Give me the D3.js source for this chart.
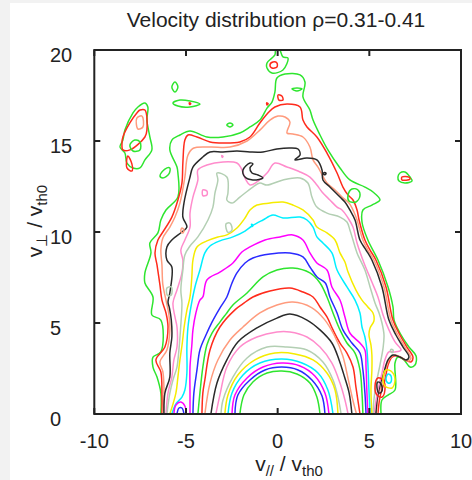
<!DOCTYPE html>
<html><head><meta charset="utf-8">
<script src="https://cdn.jsdelivr.net/npm/d3@7"></script>
<style>
html,body{margin:0;padding:0;background:#f2f2f2;overflow:hidden;}
svg{display:block;}
text{font-family:"Liberation Sans",Arial,Helvetica,sans-serif;fill:#222;}
</style></head><body>
<svg id="chart" width="472" height="480"></svg>
<script>
// ---- data (v_par, v_perp) ----
const xTicks = [-10,-5,0,5,10];
const yTicks = [0,5,10,15,20];
const levelColors = ["#2ee52e","#ff2b1c","#ff9b7d","#2a2a2a","#ff8ccc","#b3cfb3","#f5ec00","#00efff","#ff00ff","#2a2aff"];

const contour01 = [[-6.37,0],[-6.37,1.15],[-6.58,2.03],[-6.8,2.58],[-6.8,3.13],[-6.37,3.41],[-6.37,5.16],[-6.86,5.44],[-6.8,6.43],[-7.24,7.2],[-7.24,7.75],[-6.91,8.85],[-6.97,9.4],[-6.53,9.95],[-6.37,10.66],[-6.09,11.21],[-5.44,11.92],[-5.44,13.24],[-5.49,13.57],[-5.88,14.51],[-5.77,15.05],[-5.33,15.33],[-4.78,15.55],[-3.86,15.22],[-2.98,15.22],[-2.06,15.44],[-1.51,15.77],[-0.97,16.15],[-0.58,16.81],[-0.31,17.14],[-0.15,17.69],[-0.04,18.46],[0.4,18.68],[1.22,18.63],[1.49,18.24],[1.38,17.42],[1.76,16.7],[1.93,16.15],[2.31,15.33],[2.74,14.51],[3.4,13.52],[3.94,12.86],[4.76,12.47],[5.2,12.2],[5.58,11.76],[5.14,11.48],[4.65,11.21],[4.6,10.55],[4.92,9.56],[5.47,8.46],[6.02,6.98],[6.29,5.88],[6.35,5.16],[6.67,4.45],[7.16,3.68],[7.55,3.19],[7.49,2.69],[7.22,2.58],[6.89,2.97],[6.56,3.13],[6.4,2.8],[6.4,1.32],[6.02,1.04],[5.69,0.77],[5.64,0]];
const contour02 = [[-6.31,0],[-6.31,1.04],[-6.37,2.31],[-6.64,2.97],[-6.15,3.68],[-5.98,4.78],[-6.09,5.55],[-6.31,6.26],[-6.42,7.09],[-6.58,8.19],[-6.69,8.85],[-6.53,9.56],[-6.26,10.0],[-5.77,10.82],[-5.44,11.76],[-5.22,12.69],[-5.17,13.79],[-5.06,15.05],[-4.89,15.33],[-4.4,15.22],[-3.69,14.95],[-2.98,14.89],[-2.06,14.95],[-1.51,15.22],[-0.97,15.99],[-0.53,16.54],[-0.15,16.87],[0.51,17.03],[1.22,16.87],[1.38,16.15],[1.6,15.77],[2.14,15.22],[2.69,14.34],[3.24,13.24],[3.56,12.47],[3.84,12.03],[4.11,11.76],[4.33,11.21],[4.44,10.66],[4.76,9.56],[5.04,9.01],[5.36,8.46],[5.91,6.98],[6.29,5.16],[6.67,4.34],[7.05,3.68],[7.38,3.13],[7.27,2.86],[6.94,2.97],[6.56,3.19],[6.24,3.13],[6.02,2.69],[5.85,1.87],[5.58,0.93],[5.47,0]];
const contour03 = [[-6.26,0],[-6.2,1.04],[-6.26,2.31],[-6.42,2.86],[-6.04,3.52],[-5.88,4.62],[-5.93,5.44],[-6.09,6.26],[-6.26,7.09],[-6.31,8.19],[-6.37,9.01],[-6.26,9.67],[-5.88,10.27],[-5.6,10.82],[-5.33,11.59],[-5.06,13.02],[-4.9,14.2],[-4.6,14.6],[-3.69,14.67],[-2.6,14.67],[-1.67,15.0],[-0.97,15.6],[-0.42,16.15],[0.02,16.37],[0.4,16.32],[0.67,16.04],[0.51,15.44],[0.83,15.38],[1.38,15.22],[1.76,14.67],[1.93,13.96],[2.2,13.57],[2.69,12.69],[3.13,12.31],[3.51,11.92],[3.89,11.59],[4.16,11.1],[4.33,10.66],[4.65,9.56],[4.92,9.01],[5.25,8.46],[5.8,6.98],[6.18,5.16],[6.56,4.34],[6.94,3.68],[7.27,3.08],[7.11,2.91],[6.78,3.08],[6.4,3.24],[6.13,3.08],[5.91,2.53],[5.75,1.87],[5.47,0.93],[5.42,0]];
const contour04 = [[-6.2,0],[-6.15,1.15],[-5.88,2.03],[-5.88,3.35],[-5.77,4.23],[-5.8,5.16],[-5.9,5.82],[-5.98,6.15],[-5.88,6.65],[-5.77,8.08],[-6.04,8.46],[-6.04,9.18],[-5.77,9.56],[-5.22,10.0],[-4.95,10.27],[-5.17,10.82],[-5.11,11.59],[-4.78,13.02],[-4.62,13.57],[-4.08,14.12],[-3.69,14.4],[-2.98,14.4],[-2.22,14.45],[-1.51,14.4],[-0.8,14.4],[-0.04,14.56],[0.67,14.62],[1.11,14.56],[1.22,14.23],[0.94,13.96],[1.6,14.07],[2.14,13.96],[2.42,13.41],[2.47,12.86],[2.85,12.47],[3.4,11.92],[3.67,11.65],[3.94,11.21],[4.22,10.66],[4.49,9.56],[4.82,9.01],[5.14,8.46],[5.69,6.98],[6.07,5.16],[6.45,4.34],[6.84,3.68],[7.16,3.13],[7.0,2.97],[6.67,3.13],[6.29,3.24],[6.02,2.97],[5.8,2.31],[5.58,1.59],[5.42,0.77],[5.36,0]];
const contour05 = [[-6.09,0],[-5.98,1.15],[-5.77,2.03],[-5.66,2.97],[-5.49,3.68],[-5.49,4.78],[-5.6,5.33],[-5.71,6.1],[-5.49,6.81],[-5.22,7.75],[-5.17,8.46],[-5.28,9.01],[-5.06,9.56],[-4.78,10.27],[-4.78,11.04],[-4.62,11.92],[-4.35,12.86],[-4.35,13.41],[-3.86,13.68],[-2.98,13.85],[-2.22,13.79],[-2.0,13.52],[-1.73,12.86],[-1.51,12.58],[-1.13,12.75],[-0.58,13.24],[-0.15,13.79],[0.51,13.57],[1.22,13.3],[1.76,13.02],[2.14,12.58],[2.42,12.2],[2.85,11.76],[3.24,11.37],[3.51,11.21],[3.84,10.77],[4.11,10.27],[4.33,9.4],[4.71,8.3],[5.14,7.25],[5.47,6.43],[5.75,5.44],[6.07,4.62],[6.4,3.96],[6.73,3.52],[6.4,3.41],[6.07,3.41],[5.85,2.97],[5.69,2.25],[5.47,1.32],[5.25,0]];
const contour06 = [[-6.04,0],[-5.88,1.15],[-5.71,1.87],[-5.49,2.58],[-5.4,3.35],[-5.3,4.62],[-5.22,6.1],[-5.28,6.81],[-5.17,7.91],[-5.06,8.74],[-4.78,9.23],[-4.35,9.73],[-3.8,10.66],[-3.53,11.37],[-3.42,12.14],[-3.26,12.86],[-3.31,13.24],[-2.77,13.02],[-2.71,12.14],[-2.77,11.76],[-2.49,11.59],[-2.06,11.92],[-1.35,12.47],[-0.97,12.69],[-0.58,12.58],[0.29,12.86],[1.22,12.97],[1.65,12.69],[1.87,11.92],[2.14,11.37],[2.69,11.04],[3.4,10.82],[3.78,10.55],[3.94,10.11],[4.11,9.56],[4.33,8.85],[4.76,7.91],[5.04,6.98],[5.31,6.1],[5.53,5.55],[5.69,5.0],[5.8,4.34],[5.75,3.63],[5.58,2.69],[5.36,1.59],[5.25,0.77],[5.2,0]];
const contour07 = [[-5.88,0],[-5.55,1.15],[-5.44,2.03],[-5.33,2.97],[-5.2,3.9],[-5.1,4.78],[-4.95,5.71],[-4.78,6.43],[-4.68,7.53],[-4.62,8.46],[-4.4,9.18],[-3.86,9.51],[-3.26,9.73],[-2.77,9.84],[-2.22,10.22],[-1.78,10.77],[-1.51,11.21],[-1.13,11.48],[-0.42,11.59],[0.29,11.65],[0.83,11.48],[1.38,11.21],[1.93,10.66],[2.14,10.27],[2.69,9.95],[3.13,9.56],[3.4,8.85],[3.67,8.35],[3.84,7.8],[4.27,6.81],[4.6,6.26],[4.92,5.88],[5.2,5.55],[5.25,5.11],[5.04,4.73],[4.98,4.34],[5.09,3.79],[5.14,3.24],[5.14,2.42],[5.09,1.32],[5.14,0]];
const contour08 = [[-5.77,0],[-5.55,0.55],[-5.22,0.93],[-5.06,1.32],[-4.95,2.25],[-4.95,3.68],[-4.89,4.78],[-4.73,5.88],[-4.51,6.98],[-4.24,7.91],[-3.97,8.85],[-3.69,9.23],[-3.15,9.51],[-2.44,9.73],[-1.78,10.05],[-1.4,10.33],[-0.8,10.66],[-0.26,10.93],[0.29,10.77],[1.22,10.82],[1.6,10.66],[1.93,10.27],[2.14,9.73],[2.47,9.4],[2.96,8.85],[3.24,7.91],[3.78,6.98],[4.22,6.26],[4.49,5.55],[4.6,4.78],[4.76,4.23],[4.87,3.52],[4.92,2.8],[4.98,1.32],[5.04,0]];
const contour09 = [[-4.78,0],[-4.78,1.15],[-4.78,2.58],[-4.68,3.79],[-4.62,4.62],[-4.46,5.55],[-4.24,6.26],[-4.08,6.43],[-3.86,7.36],[-3.15,7.8],[-2.44,8.3],[-1.95,8.9],[-1.51,9.18],[-0.69,9.56],[0.13,9.73],[0.83,9.84],[1.38,9.56],[1.76,8.85],[2.14,8.3],[2.69,7.91],[2.96,6.98],[3.4,6.26],[3.67,5.33],[3.94,4.45],[4.49,3.9],[4.76,3.52],[4.82,2.58],[4.87,1.15],[4.92,0]];
const contour10 = [[-4.62,0],[-4.57,1.15],[-4.4,2.42],[-4.24,3.52],[-3.91,4.34],[-3.58,5.05],[-3.15,5.82],[-2.77,6.43],[-2.49,7.2],[-2.22,7.75],[-1.78,8.3],[-1.35,8.57],[-0.42,8.79],[0.67,8.85],[1.38,8.63],[1.76,8.08],[2.15,7.53],[2.6,7.2],[2.85,6.43],[3.24,5.55],[3.56,4.62],[4.05,3.9],[4.49,3.35],[4.65,2.42],[4.76,1.15],[4.82,0]];
const contour11 = [[-4.35,0],[-4.24,1.15],[-4.08,2.58],[-3.86,3.79],[-3.58,4.45],[-3.15,5.05],[-2.82,5.49],[-2.44,5.99],[-1.67,6.65],[-0.8,7.53],[-0.04,7.91],[0.83,8.02],[1.76,7.75],[2.31,7.2],[2.69,6.43],[3.02,5.55],[3.4,4.62],[3.78,3.9],[4.22,3.35],[4.49,2.42],[4.6,1.15],[4.65,0]];
const contour12 = [[-4.13,0],[-4.08,1.15],[-3.97,1.87],[-3.69,3.52],[-3.15,4.78],[-2.3,5.75],[-1.9,6.05],[-1.35,6.43],[-0.42,6.76],[0.67,6.92],[1.38,6.7],[1.93,6.43],[2.31,5.88],[2.69,5.33],[3.02,4.62],[3.4,3.9],[3.78,3.35],[4.11,2.58],[4.27,1.48],[4.49,0]];
const contour13 = [[-3.97,0],[-3.69,1.7],[-3.26,2.97],[-2.6,4.07],[-1.89,4.78],[-0.97,5.55],[-0.04,5.99],[0.83,6.15],[1.85,5.85],[2.55,5.2],[3.1,4.3],[3.55,3.2],[3.85,1.9],[4.1,0.77],[4.3,0]];
const contour14 = [[-3.64,0],[-3.31,1.7],[-2.77,2.97],[-2.17,3.96],[-1.13,4.73],[-0.04,5.27],[0.67,5.49],[1.6,5.16],[2.31,4.62],[2.96,3.9],[3.35,2.97],[3.65,2.03],[3.9,1.15],[4.05,0]];
const contour15 = [[-3.37,0],[-3.15,1.04],[-2.77,2.58],[-2.06,3.68],[-1.13,4.23],[-0.04,4.51],[0.67,4.51],[1.6,4.23],[2.31,3.68],[2.96,2.8],[3.4,1.7],[3.67,0.77],[3.84,0]];
const contour16 = [[-3.09,0],[-2.98,0.77],[-2.44,2.03],[-1.67,3.08],[-0.58,3.68],[0.51,3.68],[1.6,3.52],[2.47,2.86],[3.02,1.87],[3.29,0.93],[3.46,0]];
const contour17 = [[-2.88,0],[-2.71,1.04],[-2.17,2.14],[-1.24,2.97],[-0.15,3.35],[0.94,3.3],[1.93,2.97],[2.69,2.25],[3.13,1.32],[3.29,0]];
const contour18 = [[-2.71,0],[-2.49,1.15],[-1.89,2.14],[-0.97,2.8],[0.23,3.02],[1.33,2.8],[2.2,2.25],[2.74,1.32],[3.02,0]];
const contour19 = [[-2.49,0],[-2.33,1.04],[-1.67,1.98],[-0.8,2.58],[0.23,2.8],[1.22,2.64],[2.03,2.09],[2.58,1.15],[2.8,0]];
const contour20 = [[-2.33,0],[-2.17,1.04],[-1.51,1.87],[-0.69,2.42],[0.23,2.58],[1.11,2.42],[1.87,1.87],[2.42,0.99],[2.58,0]];
const contour21 = [[-2.06,0],[-1.84,1.04],[-1.35,1.76],[-0.58,2.25],[0.23,2.36],[1.05,2.2],[1.76,1.7],[2.14,0.93],[2.31,0]];

// open arcs touching the v_perp = 0 axis: [level, points]
const bottomArcs = [
  [9, [[-5.66,0],[-5.55,0.49],[-5.28,0.66],[-5.06,0.44],[-5.0,0]]],
  [10,[[-5.49,0],[-5.38,0.33],[-5.22,0.33],[-5.11,0]]]
];

// closed islands: [level, points]
const islands = [
  [1, [[-8.44,15.05],[-8.33,15.6],[-7.89,16.54],[-7.62,16.87],[-7.24,17.09],[-7.08,16.87],[-7.13,16.15],[-6.97,15.22],[-6.86,14.51],[-7.24,13.96],[-7.51,13.52],[-7.89,13.52],[-8.22,13.79],[-8.33,14.34],[-8.6,14.67]]],
  [2, [[-7.51,16.7],[-7.24,16.7],[-7.13,15.6],[-7.24,15.22],[-8.06,14.51],[-8.44,14.51],[-8.49,14.89],[-8.44,15.22],[-8.06,15.99],[-7.68,16.54]]],
  [1, [[-8.06,14.78],[-7.79,15.05],[-7.51,14.95],[-7.51,14.51],[-7.89,14.45]]],
  [2, [[-8.17,14.18],[-7.95,13.74],[-7.95,13.35],[-8.22,13.52]]],
  [3, [[-7.68,16.26],[-7.4,16.37],[-7.35,15.77],[-7.62,15.66]]],
  [1, [[-5.6,18.24],[-5.44,17.97],[-5.6,17.69],[-5.77,17.97]]],
  [1, [[-5.71,17.09],[-5.33,17.25],[-4.78,17.2],[-4.24,17.03],[-4.78,16.87],[-5.44,16.92]]],
  [2, [[-4.82,17.1],[-4.74,17.06],[-4.8,17.0]]],
  [1, [[-6.42,13.08],[-6.15,13.46],[-5.88,13.52],[-5.93,13.19],[-6.26,12.97]]],
  [1, [[-2.77,15.88],[-2.6,15.99],[-2.44,15.88],[-2.6,15.77]]],
  [1, [[-0.09,20.1],[0.07,20.1],[0.29,19.62],[0.56,19.56],[0.29,18.9],[-0.31,18.74],[-0.58,19.01],[-0.58,19.29],[-0.31,19.56],[-0.15,19.73]]],
  [2, [[-0.42,19.18],[-0.26,19.34],[-0.04,19.29],[-0.04,19.07],[-0.31,19.01]]],
  [1, [[0.78,17.86],[1.05,17.91],[1.33,17.86],[1.05,17.75]]],
  [1, [[6.67,13.24],[6.94,13.3],[7.22,13.02],[7.33,12.8],[6.94,12.69],[6.62,12.8],[6.56,13.02]]],
  [2, [[6.78,13.02],[7.16,13.02],[7.22,12.91],[6.78,12.86]]],
  [1, [[3.84,12.03],[4.05,12.36],[4.38,12.31],[4.49,11.98],[4.27,11.65],[3.89,11.7]]],
  [2, [[0.02,17.53],[0.23,17.47],[0.29,17.25],[0.07,17.25]]],
  [2, [[-0.6,17.1],[-0.52,17.05],[-0.58,16.98]]],
  [3, [[-5.22,10.22],[-5.11,10.11],[-5.17,9.95],[-5.28,10.05]]],
  [4, [[-1.51,13.79],[-1.89,13.41],[-1.78,13.02],[-1.35,12.86],[-0.8,12.97],[-1.07,13.13],[-1.4,13.24],[-1.51,13.52],[-1.35,13.74]]],
  [4, [[2.55,13.27],[2.64,13.22],[2.58,13.15],[2.5,13.2]]],
  [5, [[-4.08,12.31],[-3.86,12.25],[-3.86,12.03],[-4.08,12.0]]],
  [5, [[-3.05,14.2],[-2.98,14.15],[-3.02,14.1]]],
  [6, [[-2.82,10.44],[-2.6,10.49],[-2.49,10.11],[-2.71,9.98]]],
  [6, [[-6.04,6.92],[-5.8,6.98],[-5.8,6.54],[-6.0,6.5]]],
  [8, [[-1.43,10.42],[-1.35,10.38],[-1.38,10.3]]],
  [2, [[5.47,1.98],[5.75,1.87],[5.85,1.32],[5.69,0.93],[5.42,1.04],[5.31,1.54]]],
  [4, [[5.47,1.76],[5.64,1.65],[5.69,1.26],[5.53,1.15],[5.42,1.43]]],
  [7, [[5.91,2.42],[6.24,2.31],[6.4,1.87],[6.24,1.43],[5.85,1.54],[5.75,1.98]]],
  [8, [[6.02,2.2],[6.18,2.09],[6.18,1.76],[6.02,1.7],[5.91,1.92]]],
  [6, [[6.18,3.55],[6.3,3.5],[6.27,3.38],[6.15,3.42]]]
];

const contourLines = [contour01,contour02,contour03,contour04,contour05,contour06,contour07,
  contour08,contour09,contour10,contour11,contour12,contour13,contour14,contour15,contour16,
  contour17,contour18,contour19,contour20,contour21];

// ---- drawing ----
const svg = d3.select("#chart");
svg.append("rect").attr("x",10).attr("y",3).attr("width",462).attr("height",477).attr("fill","#fff");

const x = d3.scaleLinear().domain([-10,10]).range([94.3,461]);
const y = d3.scaleLinear().domain([0,20]).range([414,50]);
const colorOf = lvl => levelColors[(lvl-1) % levelColors.length];

svg.append("clipPath").attr("id","plotclip").append("rect")
  .attr("x",x(-10)).attr("y",y(20)).attr("width",x(10)-x(-10)).attr("height",y(0)-y(20));

const gC = svg.append("g").attr("clip-path","url(#plotclip)")
  .attr("fill","none").attr("stroke-width",1.5).attr("stroke-linejoin","round");

const lineOpen = d3.line().x(d=>x(d[0])).y(d=>y(d[1])).curve(d3.curveCatmullRom.alpha(0.5));
const lineClosed = d3.line().x(d=>x(d[0])).y(d=>y(d[1])).curve(d3.curveCatmullRomClosed.alpha(0.5));

contourLines.forEach((pts,i)=>{
  gC.append("path").attr("d",lineOpen(pts)).attr("stroke",colorOf(i+1));
});
bottomArcs.forEach(([lvl,pts])=>{
  gC.append("path").attr("d",lineOpen(pts)).attr("stroke",colorOf(lvl));
});
islands.forEach(([lvl,pts])=>{
  gC.append("path").attr("d",lineClosed(pts)).attr("stroke",colorOf(lvl));
});

// frame
svg.append("rect").attr("x",x(-10)).attr("y",y(20)).attr("width",x(10)-x(-10)).attr("height",y(0)-y(20))
  .attr("fill","none").attr("stroke","#222").attr("stroke-width",2);

// ticks (inward on all sides)
const tk = svg.append("g").attr("stroke","#222").attr("stroke-width",2);
xTicks.forEach(v=>{
  tk.append("line").attr("x1",x(v)).attr("x2",x(v)).attr("y1",y(0)).attr("y2",y(0)-6);
  tk.append("line").attr("x1",x(v)).attr("x2",x(v)).attr("y1",y(20)).attr("y2",y(20)+6);
});
yTicks.forEach(v=>{
  tk.append("line").attr("x1",x(-10)).attr("x2",x(-10)+6).attr("y1",y(v)).attr("y2",y(v));
  tk.append("line").attr("x1",x(10)).attr("x2",x(10)-6).attr("y1",y(v)).attr("y2",y(v));
});

// tick labels
svg.append("g").selectAll("text").data(xTicks).join("text")
  .attr("x",d=>x(d)).attr("y",448).attr("text-anchor","middle").attr("font-size",20)
  .text(d=>d);
svg.append("g").selectAll("text").data(yTicks).join("text")
  .attr("x",50).attr("y",d=>y(d)+5).attr("dy","0.35em").attr("text-anchor","start").attr("font-size",20)
  .text(d=>d);

// title
svg.append("text").attr("x",276).attr("y",27).attr("text-anchor","middle").attr("font-size",21)
  .text("Velocity distribution \u03C1=0.31-0.41");

// x label
const xl = svg.append("text").attr("x",289).attr("y",471).attr("text-anchor","middle").attr("font-size",21);
xl.append("tspan").text("v");
xl.append("tspan").attr("font-size",15).attr("dy",5).text("//");
xl.append("tspan").attr("dy",-5).text(" / v");
xl.append("tspan").attr("font-size",15).attr("dy",5).text("th0");

// y label
const yl = svg.append("text").attr("transform","translate(42,221) rotate(-90)")
  .attr("text-anchor","middle").attr("font-size",21);
yl.append("tspan").text("v");
yl.append("tspan").attr("font-size",15).attr("dy",5).text("\u22A5");
yl.append("tspan").attr("dy",-5).text(" / v");
yl.append("tspan").attr("font-size",15).attr("dy",5).text("th0");
</script></body></html>
